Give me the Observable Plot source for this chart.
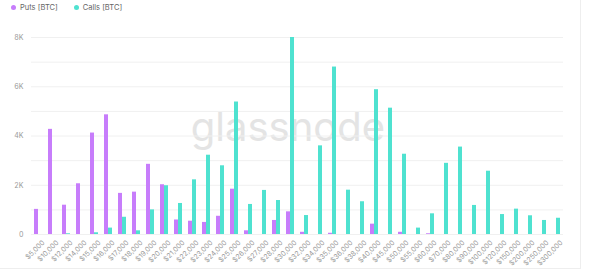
<!DOCTYPE html>
<html>
<head>
<meta charset="utf-8">
<script src="https://cdn.jsdelivr.net/npm/d3@7"></script>
<script src="https://cdn.jsdelivr.net/npm/@observablehq/plot@0.6"></script>
<style>
  body { margin: 0; background: #fff; font-family: Inter, "Open Sans", sans-serif; }
  #card { position: relative; width: 580px; height: 268px; border-right: 1px solid #eee; border-bottom: 1px solid #eee; background: #fff; }
  #legend { height: 14px; display: flex; align-items: center; font-size: 7.5px; color: #666; padding-left: 11px; }
  .item { display: flex; align-items: center; margin-right: 16px; }
  .dot { width: 5px; height: 5px; border-radius: 50%; margin-right: 4px; }
  #watermark { position: absolute; left: 288px; top: 107px; transform: translateX(-50%); font-size: 40px; line-height: 40px; color: #e4e4e4; z-index: 0; white-space: nowrap; }
  #chart { position: relative; z-index: 1; }
</style>
</head>
<body>
<div id="card">
  <div id="legend"></div>
  <div id="watermark">glassnode</div>
  <div id="chart"></div>
</div>
<script>
const strikes = ["$5,000","$10,000","$12,000","$14,000","$15,000","$16,000","$17,000","$18,000","$19,000","$20,000","$21,000","$22,000","$23,000","$24,000","$25,000","$26,000","$27,000","$28,000","$30,000","$32,000","$34,000","$35,000","$36,000","$38,000","$40,000","$45,000","$50,000","$55,000","$60,000","$70,000","$80,000","$90,000","$100,000","$120,000","$150,000","$200,000","$250,000","$300,000"];
const puts =  [1020,4270,1190,2060,4120,4860,1670,1720,2850,2020,590,540,490,740,1840,150,0,570,920,90,0,50,0,0,420,0,90,0,30,0,0,0,0,0,0,0,0,0];
const calls = [0,0,30,0,70,260,700,150,1000,1980,1260,2220,3220,2790,5380,1220,1790,1380,8000,770,3600,6800,1800,1330,5880,5130,3260,260,840,2890,3550,1180,2570,810,1030,760,570,660];
const seriesNames = ["Puts [BTC]", "Calls [BTC]"];
const seriesColors = ["#c77dfb", "#4fe2d0"];
const yTicks = [0, 2000, 4000, 6000, 8000];
const gridTicks = [0,1000,2000,3000,4000,5000,6000,7000,8000];

const data = [];
strikes.forEach((s, i) => {
  data.push({strike: s, series: seriesNames[0], value: puts[i]});
  data.push({strike: s, series: seriesNames[1], value: calls[i]});
});

const legend = document.getElementById("legend");
seriesNames.forEach((n, i) => {
  const it = document.createElement("div");
  it.className = "item";
  it.innerHTML = `<span class="dot" style="background:${seriesColors[i]}"></span><span>${n}</span>`;
  legend.appendChild(it);
});

const chart = Plot.plot({
  width: 580,
  height: 254,
  marginLeft: 20,
  marginRight: 7,
  marginTop: 23,
  marginBottom: 34,
  style: {fontFamily: "Inter, 'Open Sans', sans-serif", fontSize: "7px", color: "#999", background: "transparent"},
  fx: {domain: strikes, padding: 0, label: null},
  x: {domain: seriesNames, paddingInner: 0.1, paddingOuter: 0.775, axis: null},
  y: {domain: [0, 8000], label: null},
  color: {domain: seriesNames, range: seriesColors},
  marks: [
    Plot.gridY(gridTicks, {stroke: "#f0f0f0", strokeOpacity: 1}),
    Plot.axisY(yTicks, {tickSize: 0, tickPadding: 8, tickFormat: d => d === 0 ? "0" : (d / 1000) + "K", fill: "#999"}),
    Plot.axisFx({anchor: "bottom", tickRotate: -45, tickSize: 0, tickPadding: 7, fill: "#999", dx: 5, label: null}),
    Plot.barY(data, {fx: "strike", x: "series", y: "value", fill: "series"})
  ]
});
document.getElementById("chart").appendChild(chart);
</script>
</body>
</html>
